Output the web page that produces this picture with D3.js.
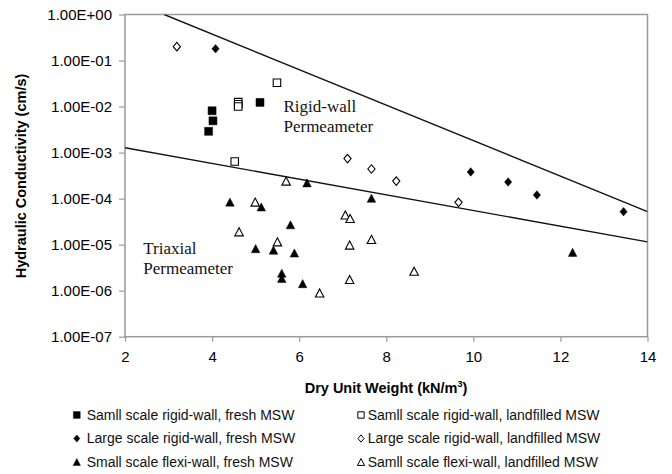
<!DOCTYPE html>
<html>
<head>
<meta charset="utf-8">
<script src="https://cdn.jsdelivr.net/npm/d3@7/dist/d3.min.js"></script>
<style>
  html, body { margin: 0; padding: 0; background: #fff; }
  svg { display: block; }
</style>
</head>
<body>
<svg id="chart" width="672" height="474"></svg>
<script>
// Measured hydraulic conductivity k (cm/s) against dry unit weight (kN/m3)
const smallRigidFresh = [[4.00, 0.0081], [4.02, 0.0049], [3.92, 0.0029], [5.10, 0.0123]];
const smallRigidLandfilled = [[5.49, 0.033], [4.60, 0.0125], [4.60, 0.0112], [4.60, 0.0100], [4.52, 0.00064]];
const largeRigidFresh = [[4.08, 0.18], [9.94, 3.8e-4], [10.80, 2.3e-4], [11.46, 1.2e-4], [13.45, 5.2e-5]];
const largeRigidLandfilled = [[3.19, 0.20], [7.11, 7.4e-4], [7.66, 4.4e-4], [8.23, 2.4e-4], [9.66, 8.3e-5]];
const smallFlexiFresh = [[6.18, 2.2e-4], [4.41, 8.4e-5], [5.13, 6.6e-5], [5.80, 2.7e-5], [5.00, 8.2e-6],
  [5.41, 7.6e-6], [5.89, 6.6e-6], [5.60, 2.4e-6], [5.60, 1.85e-6], [6.08, 1.42e-6], [7.66, 1.02e-4], [12.28, 6.8e-6]];
const smallFlexiLandfilled = [[5.70, 2.4e-4], [4.99, 8.4e-5], [4.62, 1.9e-5], [5.50, 1.15e-5], [7.06, 4.4e-5],
  [7.17, 3.7e-5], [7.66, 1.3e-5], [7.16, 9.8e-6], [7.16, 1.75e-6], [8.64, 2.65e-6], [6.47, 8.9e-7]];

// Boundary lines separating the permeameter types
const rigidWallLine = [[2.90, 1.0], [14, 5.2e-5]];
const triaxialLine = [[2, 1.27e-3], [14, 1.15e-5]];

const xTicks = [2, 4, 6, 8, 10, 12, 14];
const yTicks = [1, 1e-1, 1e-2, 1e-3, 1e-4, 1e-5, 1e-6, 1e-7];

const seriesNames = [
  "Samll scale rigid-wall, fresh MSW",
  "Samll scale rigid-wall, landfilled MSW",
  "Large scale rigid-wall, fresh MSW",
  "Large scale rigid-wall, landfilled MSW",
  "Small scale flexi-wall, fresh MSW",
  "Samll scale flexi-wall, landfilled MSW"
];

const svg = d3.select("#chart");
const plot = { left: 125, right: 647.5, top: 14.5, bottom: 336.7 };

const x = d3.scaleLinear().domain([2, 14]).range([plot.left, plot.right]);
const y = d3.scaleLog().domain([1e-7, 1]).range([plot.bottom, plot.top]);

const axisColor = "#9a9a9a";
const sans = "'Liberation Sans', Arial, sans-serif";
const serif = "'Liberation Serif', 'Times New Roman', serif";

// Marker shapes, each centred on its bounding box
const square = { draw(ctx, s) { const h = s / 2; ctx.rect(-h, -h, s, s); } };
const diamond = { draw(ctx, s) { const h = s / 2; ctx.moveTo(0, -h); ctx.lineTo(h * 0.85, 0); ctx.lineTo(0, h); ctx.lineTo(-h * 0.85, 0); ctx.closePath(); } };
const triangle = { draw(ctx, s) { const h = s / 2; ctx.moveTo(0, -h * 0.95); ctx.lineTo(h, h * 0.95); ctx.lineTo(-h, h * 0.95); ctx.closePath(); } };

const series = [
  { data: smallRigidFresh, shape: square, size: 8, filled: true },
  { data: smallRigidLandfilled, shape: square, size: 7.5, filled: false },
  { data: largeRigidFresh, shape: diamond, size: 8.5, filled: true },
  { data: largeRigidLandfilled, shape: diamond, size: 8.5, filled: false },
  { data: smallFlexiFresh, shape: triangle, size: 8.5, filled: true },
  { data: smallFlexiLandfilled, shape: triangle, size: 8.5, filled: false }
];

// Axes
const fmt = v => {
  const e = Math.round(Math.log10(v));
  const sign = e < 0 ? "-" : "+";
  return "1.00E" + sign + String(Math.abs(e)).padStart(2, "0");
};

const yAxis = svg.append("g")
  .attr("transform", `translate(${plot.left},0)`)
  .call(d3.axisLeft(y).tickValues(yTicks).tickFormat(fmt).tickSize(6).tickPadding(7));
const xAxis = svg.append("g")
  .attr("transform", `translate(0,${plot.bottom})`)
  .call(d3.axisBottom(x).tickValues(xTicks).tickFormat(d3.format("d")).tickSize(5).tickPadding(10));

[yAxis, xAxis].forEach(g => {
  g.selectAll(".domain").remove();
  g.selectAll(".tick line").attr("stroke", axisColor).attr("stroke-width", 1.2);
  g.selectAll(".tick text").attr("fill", "#000").style("font-family", sans).style("font-size", "15px");
});

// Plot frame
svg.append("rect")
  .attr("x", plot.left).attr("y", plot.top)
  .attr("width", plot.right - plot.left).attr("height", plot.bottom - plot.top)
  .attr("fill", "none").attr("stroke", axisColor).attr("stroke-width", 1.5);

// Boundary lines, clipped to the plot
svg.append("clipPath").attr("id", "plotClip").append("rect")
  .attr("x", plot.left).attr("y", plot.top)
  .attr("width", plot.right - plot.left).attr("height", plot.bottom - plot.top);

const line = d3.line().x(d => x(d[0])).y(d => y(d[1]));
svg.append("g").attr("clip-path", "url(#plotClip)")
  .selectAll("path").data([rigidWallLine, triaxialLine]).join("path")
  .attr("d", line).attr("fill", "none").attr("stroke", "#111").attr("stroke-width", 1.4);

// Data markers
series.forEach(s => {
  const sym = d3.symbol().type(s.shape).size(s.size);
  svg.append("g").selectAll("path").data(s.data).join("path")
    .attr("transform", d => `translate(${x(d[0])},${y(d[1])})`)
    .attr("d", sym)
    .attr("fill", s.filled ? "#000" : "#fff")
    .attr("stroke", "#000")
    .attr("stroke-width", s.filled ? 0.5 : 1.1);
});

// Region labels
const regionLabels = [
  { lines: ["Rigid-wall", "Permeameter"], at: [5.64, 111.5] },
  { lines: ["Triaxial", "Permeameter"], at: [2.42, 254] }
];
regionLabels.forEach(l => {
  const t = svg.append("text")
    .attr("x", x(l.at[0])).attr("y", l.at[1])
    .style("font-family", serif).style("font-size", "17px").attr("fill", "#111");
  l.lines.forEach((s, i) => t.append("tspan").attr("x", x(l.at[0])).attr("dy", i ? 20 : 0).text(s));
});

// Axis titles
const xTitle = svg.append("text")
  .attr("x", 386).attr("y", 393)
  .attr("text-anchor", "middle")
  .style("font-family", sans).style("font-size", "14.5px").style("font-weight", "bold");
xTitle.append("tspan").text("Dry Unit Weight (kN/m");
xTitle.append("tspan").attr("dy", -6).style("font-size", "9px").text("3");
xTitle.append("tspan").attr("dy", 6).text(")");

svg.append("text")
  .attr("transform", "translate(26,176) rotate(-90)")
  .attr("text-anchor", "middle")
  .style("font-family", sans).style("font-size", "14.5px").style("font-weight", "bold")
  .text("Hydraulic Conductivity (cm/s)");

// Legend: two columns, three rows
const legendCols = [{ mx: 76.8, tx: 86.7 }, { mx: 361, tx: 367.7 }];
const legendRows = [419.5, 443, 466.5];
series.forEach((s, i) => {
  const col = legendCols[i % 2];
  const rowY = legendRows[Math.floor(i / 2)];
  const g = svg.append("g");
  g.append("path")
    .attr("transform", `translate(${col.mx},${rowY - 4.5})`)
    .attr("d", d3.symbol().type(s.shape).size(s.size * 0.85))
    .attr("fill", s.filled ? "#000" : "#fff")
    .attr("stroke", "#000")
    .attr("stroke-width", s.filled ? 0.5 : 1);
  g.append("text")
    .attr("x", col.tx).attr("y", rowY)
    .style("font-family", sans).style("font-size", "14px").attr("fill", "#111")
    .text(seriesNames[i]);
});
</script>
</body>
</html>
